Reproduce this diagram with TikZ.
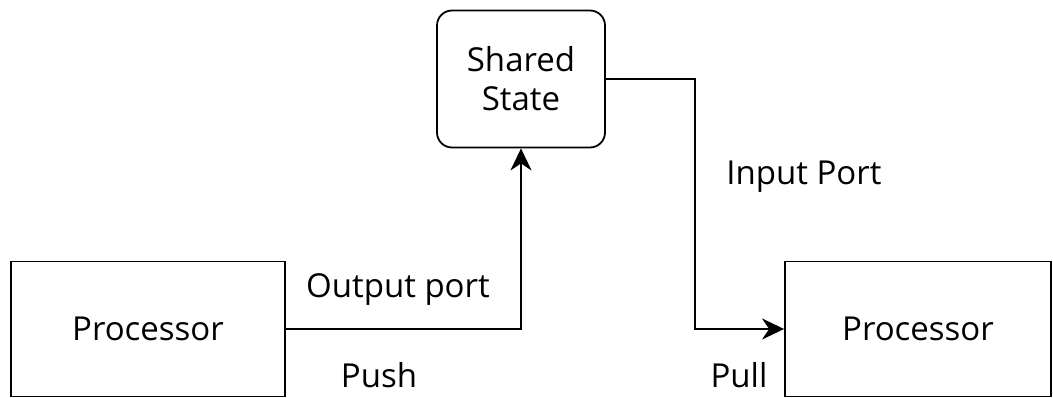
\documentclass[tikz,border=0pt]{standalone}
\usepackage{fontspec}
\setmainfont{Open Sans}
\usetikzlibrary{arrows.meta}
\tikzset{
  box/.style={draw, line width=1.8pt, minimum width=#1, minimum height=135pt, inner sep=0pt},
  state/.style={draw, line width=1.8pt, rounded corners=15pt, minimum width=168pt, minimum height=137pt, align=center, inner sep=0pt},
  flow/.style={line width=1.8pt, -{Stealth[length=22pt, width=21pt, inset=7pt]}},
  lbl/.style={inner sep=0pt, anchor=base},
}
\begin{document}
\begin{tikzpicture}[x=1pt, y=-1pt, font=\fontsize{33}{39}\selectfont]
  \useasboundingbox (0,0) rectangle (1053,398);
  % the two processors and the state they share
  \node[box=274pt] (left) at (148,329) {Processor};
  \node[box=266pt] (right) at (918,329) {Processor};
  \node[state] (shared) at (521,79) {Shared\\State};
  % write into the shared state, read back out of it
  \draw[flow] (left.east) -| (shared.south);
  \draw[flow] (shared.east) -- ++(89,0) |- (right.west);
  % port labels
  \node[lbl] (outp) at (398,298) {Output port};
  \node[lbl] (push) at (379,387) {Push};
  \node[lbl] (inp) at (804,185) {Input Port};
  \node[lbl] (pull) at (739,387) {Pull};
\end{tikzpicture}
\end{document}
